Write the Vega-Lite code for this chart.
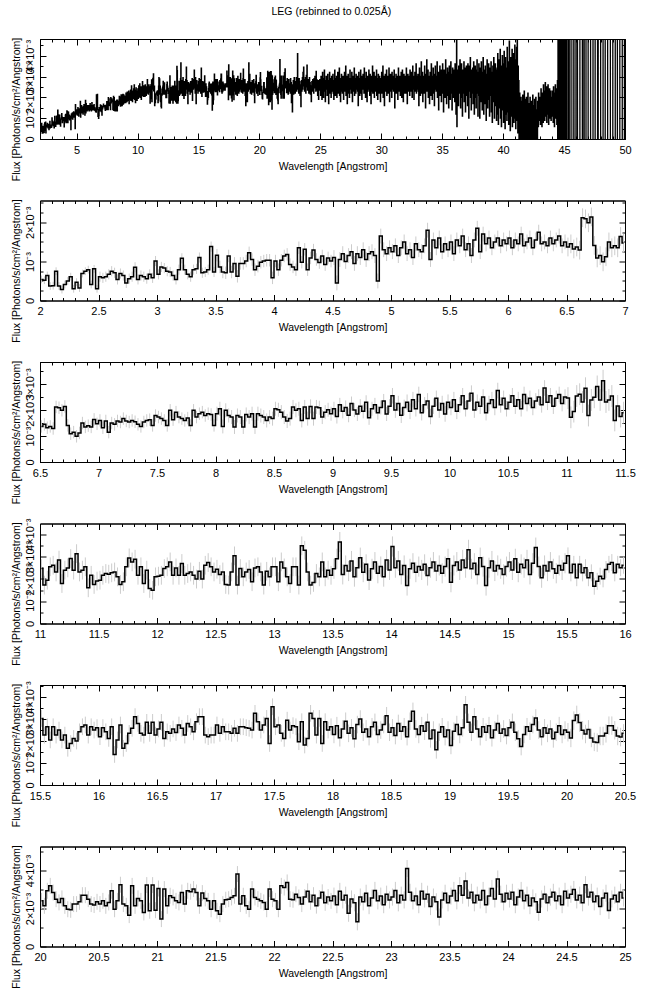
{
"$schema":"https://vega.github.io/schema/vega-lite/v6.json",
"padding":{"left":10,"top":7,"right":8,"bottom":6},
"title":{"text":"LEG (rebinned to 0.025Å)","fontSize":10.5,"fontWeight":"normal","font":"Liberation Sans","color":"black","anchor":"middle","offset":19,"dx":8},
"config":{"font":"Liberation Sans","view":{"stroke":"black","strokeWidth":1},"axis":{"grid":false,"domainColor":"black","tickColor":"black","labelColor":"black","titleColor":"black","labelFont":"Liberation Sans","titleFont":"Liberation Sans","labelFontSize":11,"titleFontSize":10.5,"titleFontWeight":"normal","zindex":1}},
"data":{"values":"x,f,e\n2.0125,0.54,0.1\n2.0375,0.52,0.1\n2.0625,0.64,0.1\n2.0875,0.37,0.1\n2.1125,0.38,0.1\n2.1375,0.75,0.1\n2.1625,0.37,0.1\n2.1875,0.28,0.1\n2.2125,0.41,0.1\n2.2375,0.5,0.1\n2.2625,0.61,0.1\n2.2875,0.3,0.1\n2.3125,0.47,0.1\n2.3375,0.32,0.1\n2.3625,0.69,0.1\n2.3875,0.75,0.1\n2.4125,0.79,0.1\n2.4375,0.41,0.1\n2.4625,0.81,0.1\n2.4875,0.3,0.1\n2.5125,0.61,0.13\n2.5375,0.58,0.13\n2.5625,0.61,0.13\n2.5875,0.67,0.13\n2.6125,0.75,0.13\n2.6375,0.71,0.13\n2.6625,0.54,0.13\n2.6875,0.69,0.13\n2.7125,0.64,0.13\n2.7375,0.45,0.13\n2.7625,0.56,0.13\n2.7875,0.61,0.13\n2.8125,0.85,0.13\n2.8375,0.54,0.13\n2.8625,0.64,0.13\n2.8875,0.61,0.13\n2.9125,0.56,0.13\n2.9375,0.67,0.13\n2.9625,0.58,0.13\n2.9875,1.01,0.13\n3.0125,0.67,0.13\n3.0375,0.86,0.13\n3.0625,0.83,0.13\n3.0875,0.75,0.13\n3.1125,0.73,0.13\n3.1375,0.64,0.13\n3.1625,0.54,0.13\n3.1875,0.79,0.13\n3.2125,1.08,0.13\n3.2375,0.79,0.13\n3.2625,0.67,0.13\n3.2875,0.61,0.13\n3.3125,0.79,0.13\n3.3375,0.81,0.13\n3.3625,1.1,0.13\n3.3875,0.71,0.13\n3.4125,0.73,0.13\n3.4375,0.79,0.13\n3.4625,1.38,0.13\n3.4875,0.73,0.13\n3.5125,1.16,0.16\n3.5375,0.86,0.16\n3.5625,0.73,0.16\n3.5875,0.71,0.16\n3.6125,1.14,0.16\n3.6375,0.73,0.16\n3.6625,0.95,0.16\n3.6875,0.62,0.16\n3.7125,0.95,0.16\n3.7375,0.95,0.16\n3.7625,1.01,0.16\n3.7875,1.22,0.16\n3.8125,1.05,0.16\n3.8375,0.79,0.16\n3.8625,0.88,0.16\n3.8875,0.98,0.16\n3.9125,1.01,0.16\n3.9375,1.03,0.16\n3.9625,1.03,0.16\n3.9875,0.58,0.16\n4.0125,1.01,0.16\n4.0375,0.79,0.16\n4.0625,1.03,0.16\n4.0875,1.14,0.16\n4.1125,1.18,0.16\n4.1375,0.92,0.16\n4.1625,0.86,0.16\n4.1875,0.79,0.16\n4.2125,1.35,0.16\n4.2375,0.98,0.16\n4.2625,1.31,0.16\n4.2875,0.79,0.16\n4.3125,1.09,0.16\n4.3375,1.29,0.16\n4.3625,1.05,0.16\n4.3875,0.97,0.16\n4.4125,1.14,0.16\n4.4375,0.92,0.16\n4.4625,1.09,0.16\n4.4875,1.01,0.16\n4.5125,1.1,0.19\n4.5375,0.45,0.19\n4.5625,1.05,0.19\n4.5875,1.2,0.19\n4.6125,1,0.19\n4.6375,1.15,0.19\n4.6625,1.25,0.19\n4.6875,0.95,0.19\n4.7125,1.2,0.19\n4.7375,1.1,0.19\n4.7625,1.3,0.19\n4.7875,1.05,0.19\n4.8125,1.2,0.19\n4.8375,1.25,0.19\n4.8625,1.15,0.19\n4.8875,0.5,0.19\n4.9125,1.65,0.19\n4.9375,1.3,0.19\n4.9625,1.2,0.19\n4.9875,1.35,0.19\n5.0125,1.25,0.19\n5.0375,1.4,0.19\n5.0625,1.15,0.19\n5.0875,1.35,0.19\n5.1125,1.5,0.19\n5.1375,1.2,0.19\n5.1625,1.3,0.19\n5.1875,1.1,0.19\n5.2125,1.45,0.19\n5.2375,1.3,0.19\n5.2625,1.25,0.19\n5.2875,1.4,0.19\n5.3125,1.8,0.19\n5.3375,1.05,0.19\n5.3625,1.55,0.19\n5.3875,1.35,0.19\n5.4125,1.6,0.19\n5.4375,1.25,0.19\n5.4625,1.45,0.19\n5.4875,1.3,0.19\n5.5125,1.5,0.19\n5.5375,1.2,0.19\n5.5625,1.55,0.19\n5.5875,1.4,0.19\n5.6125,1.65,0.19\n5.6375,1.3,0.19\n5.6625,1.45,0.19\n5.6875,1.15,0.19\n5.7125,1.55,0.19\n5.7375,1.85,0.19\n5.7625,1.25,0.19\n5.7875,1.7,0.19\n5.8125,1.45,0.19\n5.8375,1.6,0.19\n5.8625,1.35,0.19\n5.8875,1.5,0.19\n5.9125,1.6,0.19\n5.9375,1.4,0.19\n5.9625,1.55,0.19\n5.9875,1.45,0.19\n6.0125,1.6,0.19\n6.0375,1.35,0.19\n6.0625,1.55,0.19\n6.0875,1.45,0.19\n6.1125,1.7,0.19\n6.1375,1.4,0.19\n6.1625,1.5,0.19\n6.1875,1.6,0.19\n6.2125,1.35,0.19\n6.2375,1.55,0.19\n6.2625,1.75,0.19\n6.2875,1.45,0.19\n6.3125,1.5,0.19\n6.3375,1.4,0.19\n6.3625,1.6,0.19\n6.3875,1.45,0.19\n6.4125,1.55,0.19\n6.4375,1.65,0.19\n6.4625,1.4,0.19\n6.4875,1.5,0.19\n6.5125,1.37,0.24\n6.5375,1.45,0.24\n6.5625,1.32,0.24\n6.5875,1.37,0.24\n6.6125,1.29,0.24\n6.6375,2.12,0.24\n6.6625,2.09,0.24\n6.6875,1.99,0.24\n6.7125,2.14,0.24\n6.7375,1.41,0.24\n6.7625,1.09,0.24\n6.7875,1.15,0.24\n6.8125,0.99,0.24\n6.8375,1.12,0.24\n6.8625,1.5,0.24\n6.8875,1.35,0.24\n6.9125,1.4,0.24\n6.9375,1.35,0.24\n6.9625,1.64,0.24\n6.9875,1.47,0.24\n7.0125,1.6,0.24\n7.0375,1.32,0.24\n7.0625,1.58,0.24\n7.0875,1.15,0.24\n7.1125,1.5,0.24\n7.1375,1.45,0.24\n7.1625,1.58,0.24\n7.1875,1.54,0.24\n7.2125,1.67,0.24\n7.2375,1.58,0.24\n7.2625,1.54,0.24\n7.2875,1.6,0.24\n7.3125,1.55,0.24\n7.3375,1.45,0.24\n7.3625,1.37,0.24\n7.3875,1.54,0.24\n7.4125,1.6,0.24\n7.4375,1.63,0.24\n7.4625,1.41,0.24\n7.4875,1.79,0.24\n7.5125,1.73,0.24\n7.5375,1.67,0.24\n7.5625,1.6,0.24\n7.5875,1.41,0.24\n7.6125,1.99,0.24\n7.6375,1.63,0.24\n7.6625,1.92,0.24\n7.6875,1.73,0.24\n7.7125,1.67,0.24\n7.7375,1.6,0.24\n7.7625,1.69,0.24\n7.7875,1.41,0.24\n7.8125,1.99,0.24\n7.8375,1.73,0.24\n7.8625,1.86,0.24\n7.8875,1.92,0.24\n7.9125,1.79,0.24\n7.9375,1.86,0.24\n7.9625,1.83,0.24\n7.9875,1.41,0.24\n8.0125,1.86,0.27\n8.0375,2.05,0.27\n8.0625,1.37,0.27\n8.0875,1.99,0.27\n8.1125,1.79,0.27\n8.1375,1.73,0.27\n8.1625,1.35,0.27\n8.1875,1.79,0.27\n8.2125,1.73,0.27\n8.2375,1.35,0.27\n8.2625,1.83,0.27\n8.2875,1.73,0.27\n8.3125,1.86,0.27\n8.3375,1.35,0.27\n8.3625,1.86,0.27\n8.3875,1.79,0.27\n8.4125,1.73,0.27\n8.4375,1.6,0.27\n8.4625,1.73,0.27\n8.4875,1.67,0.27\n8.5125,2.05,0.27\n8.5375,2.01,0.27\n8.5625,1.92,0.27\n8.5875,1.73,0.27\n8.6125,1.58,0.27\n8.6375,1.67,0.27\n8.6625,2.12,0.27\n8.6875,1.99,0.27\n8.7125,2.05,0.27\n8.7375,1.6,0.27\n8.7625,2.12,0.27\n8.7875,1.67,0.27\n8.8125,2.14,0.27\n8.8375,1.67,0.27\n8.8625,2.12,0.27\n8.8875,2.09,0.27\n8.9125,1.73,0.27\n8.9375,1.92,0.27\n8.9625,2.01,0.27\n8.9875,1.86,0.27\n9.0125,2.05,0.27\n9.0375,1.75,0.27\n9.0625,2.2,0.27\n9.0875,1.95,0.27\n9.1125,2.1,0.27\n9.1375,1.8,0.27\n9.1625,2.25,0.27\n9.1875,2,0.27\n9.2125,1.85,0.27\n9.2375,2.15,0.27\n9.2625,1.95,0.27\n9.2875,2.3,0.27\n9.3125,1.7,0.27\n9.3375,2.05,0.27\n9.3625,2.2,0.27\n9.3875,1.9,0.27\n9.4125,2.1,0.27\n9.4375,2.35,0.27\n9.4625,1.85,0.27\n9.4875,2.15,0.27\n9.5125,2.55,0.3\n9.5375,2,0.3\n9.5625,2.25,0.3\n9.5875,1.8,0.3\n9.6125,2.1,0.3\n9.6375,2.3,0.3\n9.6625,1.95,0.3\n9.6875,2.4,0.3\n9.7125,2.05,0.3\n9.7375,2.6,0.3\n9.7625,1.9,0.3\n9.7875,2.2,0.3\n9.8125,2.35,0.3\n9.8375,1.75,0.3\n9.8625,2.15,0.3\n9.8875,2.45,0.3\n9.9125,2,0.3\n9.9375,2.25,0.3\n9.9625,1.85,0.3\n9.9875,2.3,0.3\n10.0125,2.1,0.3\n10.0375,2.4,0.3\n10.0625,1.95,0.3\n10.0875,2.2,0.3\n10.1125,2.55,0.3\n10.1375,2.05,0.3\n10.1625,2.35,0.3\n10.1875,2.65,0.3\n10.2125,2,0.3\n10.2375,2.3,0.3\n10.2625,2.15,0.3\n10.2875,2.5,0.3\n10.3125,1.9,0.3\n10.3375,2.25,0.3\n10.3625,2.4,0.3\n10.3875,2.1,0.3\n10.4125,2.75,0.3\n10.4375,2.2,0.3\n10.4625,2.45,0.3\n10.4875,2.05,0.3\n10.5125,2.3,0.3\n10.5375,2.55,0.3\n10.5625,2.15,0.3\n10.5875,2.4,0.3\n10.6125,2.05,0.3\n10.6375,2.6,0.3\n10.6625,2.25,0.3\n10.6875,2.45,0.3\n10.7125,2.1,0.3\n10.7375,2.35,0.3\n10.7625,2.5,0.3\n10.7875,2.2,0.3\n10.8125,2.85,0.3\n10.8375,2.3,0.3\n10.8625,2.55,0.3\n10.8875,2.15,0.3\n10.9125,2.45,0.3\n10.9375,2.6,0.3\n10.9625,2.25,0.3\n10.9875,2.5,0.3\n11.0125,2.46,0.42\n11.0375,1.72,0.42\n11.0625,1.94,0.42\n11.0875,2.54,0.42\n11.1125,2.61,0.42\n11.1375,2.31,0.42\n11.1625,2.84,0.42\n11.1875,1.79,0.42\n11.2125,2.39,0.42\n11.2375,2.49,0.42\n11.2625,2.91,0.42\n11.2875,2.39,0.42\n11.3125,3.13,0.42\n11.3375,2.31,0.42\n11.3625,2.39,0.42\n11.3875,2.54,0.42\n11.4125,1.6,0.42\n11.4375,2.16,0.42\n11.4625,1.75,0.42\n11.4875,1.9,0.42\n11.5125,1.94,0.42\n11.5375,2.16,0.42\n11.5625,2.24,0.42\n11.5875,2.21,0.42\n11.6125,2.27,0.42\n11.6375,2.31,0.42\n11.6625,2.09,0.42\n11.6875,1.75,0.42\n11.7125,1.87,0.42\n11.7375,2.54,0.42\n11.7625,2.94,0.42\n11.7875,2.76,0.42\n11.8125,2.88,0.42\n11.8375,2.16,0.42\n11.8625,2.54,0.42\n11.8875,1.79,0.42\n11.9125,2.39,0.42\n11.9375,1.57,0.42\n11.9625,1.49,0.42\n11.9875,2.09,0.42\n12.0125,2.12,0.42\n12.0375,2.16,0.42\n12.0625,2.46,0.42\n12.0875,2.54,0.42\n12.1125,2.76,0.42\n12.1375,2.16,0.42\n12.1625,2.49,0.42\n12.1875,2.16,0.42\n12.2125,2.69,0.42\n12.2375,2.16,0.42\n12.2625,2.24,0.42\n12.2875,2.31,0.42\n12.3125,2.16,0.42\n12.3375,1.99,0.42\n12.3625,2.34,0.42\n12.3875,1.99,0.42\n12.4125,2.61,0.42\n12.4375,2.73,0.42\n12.4625,2.54,0.42\n12.4875,2.31,0.42\n12.5125,2.43,0.42\n12.5375,2.19,0.42\n12.5625,2.31,0.42\n12.5875,1.75,0.42\n12.6125,1.72,0.42\n12.6375,2.31,0.42\n12.6625,3.03,0.42\n12.6875,1.72,0.42\n12.7125,2.46,0.42\n12.7375,2.09,0.42\n12.7625,2.31,0.42\n12.7875,2.42,0.42\n12.8125,1.87,0.42\n12.8375,2.49,0.42\n12.8625,2.54,0.42\n12.8875,2.31,0.42\n12.9125,1.72,0.42\n12.9375,2.34,0.42\n12.9625,2.09,0.42\n12.9875,2.54,0.42\n13.0125,2.54,0.42\n13.0375,1.87,0.42\n13.0625,2.76,0.42\n13.0875,2.49,0.42\n13.1125,2.09,0.42\n13.1375,1.79,0.42\n13.1625,2.54,0.42\n13.1875,2.54,0.42\n13.2125,1.72,0.42\n13.2375,3.48,0.42\n13.2625,3.28,0.42\n13.2875,2.31,0.42\n13.3125,1.72,0.42\n13.3375,1.84,0.42\n13.3625,2.24,0.42\n13.3875,2.09,0.42\n13.4125,2.76,0.42\n13.4375,2.09,0.42\n13.4625,2.39,0.42\n13.4875,2.16,0.42\n13.5125,2.45,0.45\n13.5375,2.9,0.45\n13.5625,3.65,0.45\n13.5875,2.2,0.45\n13.6125,2.6,0.45\n13.6375,2.35,0.45\n13.6625,2.8,0.45\n13.6875,2.1,0.45\n13.7125,2.5,0.45\n13.7375,2.95,0.45\n13.7625,2.3,0.45\n13.7875,2.65,0.45\n13.8125,1.95,0.45\n13.8375,2.45,0.45\n13.8625,2.75,0.45\n13.8875,2.25,0.45\n13.9125,2.55,0.45\n13.9375,2.1,0.45\n13.9625,2.85,0.45\n13.9875,2.4,0.45\n14.0125,3.45,0.45\n14.0375,2.5,0.45\n14.0625,2.8,0.45\n14.0875,2.2,0.45\n14.1125,2.6,0.45\n14.1375,1.7,0.45\n14.1625,2.45,0.45\n14.1875,2.7,0.45\n14.2125,2.3,0.45\n14.2375,2.55,0.45\n14.2625,2.4,0.45\n14.2875,2.65,0.45\n14.3125,2.15,0.45\n14.3375,2.5,0.45\n14.3625,2.75,0.45\n14.3875,2.35,0.45\n14.4125,2.6,0.45\n14.4375,2.25,0.45\n14.4625,2.55,0.45\n14.4875,2.9,0.45\n14.5125,1.85,0.45\n14.5375,2.6,0.45\n14.5625,2.75,0.45\n14.5875,2.4,0.45\n14.6125,2.85,0.45\n14.6375,2.5,0.45\n14.6625,3.3,0.45\n14.6875,2.45,0.45\n14.7125,2.7,0.45\n14.7375,2.2,0.45\n14.7625,2.95,0.45\n14.7875,2.55,0.45\n14.8125,1.7,0.45\n14.8375,2.5,0.45\n14.8625,2.8,0.45\n14.8875,2.35,0.45\n14.9125,2.6,0.45\n14.9375,2.45,0.45\n14.9625,2.2,0.45\n14.9875,2.55,0.45\n15.0125,2.75,0.45\n15.0375,2.4,0.45\n15.0625,2.9,0.45\n15.0875,2.3,0.45\n15.1125,2.65,0.45\n15.1375,2.5,0.45\n15.1625,2.85,0.45\n15.1875,2.2,0.45\n15.2125,2.7,0.45\n15.2375,3.4,0.45\n15.2625,2.55,0.45\n15.2875,2.05,0.45\n15.3125,2.6,0.45\n15.3375,2.35,0.45\n15.3625,2.75,0.45\n15.3875,2.45,0.45\n15.4125,2.25,0.45\n15.4375,2.6,0.45\n15.4625,2.4,0.45\n15.4875,2.7,0.45\n15.5125,3.03,0.38\n15.5375,2.27,0.38\n15.5625,2.65,0.38\n15.5875,2.05,0.38\n15.6125,2.65,0.38\n15.6375,2.27,0.38\n15.6625,2.5,0.38\n15.6875,2.05,0.38\n15.7125,2.27,0.38\n15.7375,1.67,0.38\n15.7625,1.89,0.38\n15.7875,2.12,0.38\n15.8125,2,0.38\n15.8375,2.42,0.38\n15.8625,2.65,0.38\n15.8875,2.73,0.38\n15.9125,2.27,0.38\n15.9375,2.65,0.38\n15.9625,2.5,0.38\n15.9875,2.61,0.38\n16.0125,2.2,0.38\n16.0375,2.61,0.38\n16.0625,2.42,0.38\n16.0875,2.12,0.38\n16.1125,2.65,0.38\n16.1375,1.39,0.38\n16.1625,2.05,0.38\n16.1875,2.73,0.38\n16.2125,1.67,0.38\n16.2375,1.89,0.38\n16.2625,2.35,0.38\n16.2875,2.58,0.38\n16.3125,3.11,0.38\n16.3375,2.8,0.38\n16.3625,2.35,0.38\n16.3875,2.27,0.38\n16.4125,2.85,0.38\n16.4375,2.35,0.38\n16.4625,2.85,0.38\n16.4875,2.27,0.38\n16.5125,2.55,0.38\n16.5375,2.85,0.38\n16.5625,2.12,0.38\n16.5875,2.42,0.38\n16.6125,2.35,0.38\n16.6375,2.55,0.38\n16.6625,2.39,0.38\n16.6875,2.73,0.38\n16.7125,2.58,0.38\n16.7375,2.27,0.38\n16.7625,2.8,0.38\n16.7875,2.65,0.38\n16.8125,2.42,0.38\n16.8375,2.88,0.38\n16.8625,3.11,0.38\n16.8875,3.11,0.38\n16.9125,2.27,0.38\n16.9375,2.2,0.38\n16.9625,2.27,0.38\n16.9875,2.27,0.38\n17.0125,2.73,0.38\n17.0375,2.35,0.38\n17.0625,2.65,0.38\n17.0875,2.42,0.38\n17.1125,2.42,0.38\n17.1375,2.35,0.38\n17.1625,2.58,0.38\n17.1875,2.35,0.38\n17.2125,2.65,0.38\n17.2375,2.65,0.38\n17.2625,2.61,0.38\n17.2875,2.58,0.38\n17.3125,2.5,0.38\n17.3375,3.26,0.38\n17.3625,2.88,0.38\n17.3875,2.5,0.38\n17.4125,2.73,0.38\n17.4375,3.03,0.38\n17.4625,1.89,0.38\n17.4875,3.56,0.38\n17.5125,2.65,0.38\n17.5375,2.73,0.38\n17.5625,2.35,0.38\n17.5875,2.12,0.38\n17.6125,2.95,0.38\n17.6375,2.5,0.38\n17.6625,2.7,0.38\n17.6875,2.65,0.38\n17.7125,1.97,0.38\n17.7375,2.88,0.38\n17.7625,1.82,0.38\n17.7875,2.12,0.38\n17.8125,3.26,0.38\n17.8375,3.03,0.38\n17.8625,2.27,0.38\n17.8875,3.03,0.38\n17.9125,1.89,0.38\n17.9375,2.88,0.38\n17.9625,2.5,0.38\n17.9875,2.65,0.38\n18.0125,2.3,0.4\n18.0375,2.7,0.4\n18.0625,2.15,0.4\n18.0875,2.55,0.4\n18.1125,2.9,0.4\n18.1375,2.35,0.4\n18.1625,2.6,0.4\n18.1875,2.1,0.4\n18.2125,2.75,0.4\n18.2375,3,0.4\n18.2625,2.4,0.4\n18.2875,2.55,0.4\n18.3125,2.2,0.4\n18.3375,2.65,0.4\n18.3625,2.85,0.4\n18.3875,2.3,0.4\n18.4125,2.5,0.4\n18.4375,2.75,0.4\n18.4625,3.15,0.4\n18.4875,2.4,0.4\n18.5125,2.6,0.4\n18.5375,2.25,0.4\n18.5625,2.8,0.4\n18.5875,2.45,0.4\n18.6125,2.65,0.4\n18.6375,2.2,0.4\n18.6625,2.9,0.4\n18.6875,3.35,0.4\n18.7125,2.55,0.4\n18.7375,2.3,0.4\n18.7625,2.7,0.4\n18.7875,2.45,0.4\n18.8125,2.85,0.4\n18.8375,2.1,0.4\n18.8625,2.5,0.4\n18.8875,1.6,0.4\n18.9125,2.4,0.4\n18.9375,2.65,0.4\n18.9625,2.2,0.4\n18.9875,2.5,0.4\n19.0125,1.8,0.4\n19.0375,2.45,0.4\n19.0625,2.75,0.4\n19.0875,2.3,0.4\n19.1125,2.6,0.4\n19.1375,3.65,0.4\n19.1625,2.85,0.4\n19.1875,2.4,0.4\n19.2125,3.1,0.4\n19.2375,2.55,0.4\n19.2625,2.2,0.4\n19.2875,2.65,0.4\n19.3125,2.4,0.4\n19.3375,2.7,0.4\n19.3625,2.15,0.4\n19.3875,2.5,0.4\n19.4125,2.8,0.4\n19.4375,2.35,0.4\n19.4625,2.55,0.4\n19.4875,2.25,0.4\n19.5125,2.6,0.4\n19.5375,2.85,0.4\n19.5625,2.4,0.4\n19.5875,2.1,0.4\n19.6125,1.75,0.4\n19.6375,2.3,0.4\n19.6625,2.65,0.4\n19.6875,2.45,0.4\n19.7125,2.75,0.4\n19.7375,3.05,0.4\n19.7625,2.5,0.4\n19.7875,2.2,0.4\n19.8125,2.6,0.4\n19.8375,2.35,0.4\n19.8625,2.55,0.4\n19.8875,2.1,0.4\n19.9125,2.4,0.4\n19.9375,2.7,0.4\n19.9625,2.3,0.4\n19.9875,2.5,0.4\n20.0125,2.4,0.42\n20.0375,2.14,0.42\n20.0625,2.93,0.42\n20.0875,3.19,0.42\n20.1125,2.84,0.42\n20.1375,2.49,0.42\n20.1625,2.32,0.42\n20.1875,2.53,0.42\n20.2125,2.14,0.42\n20.2375,1.96,0.42\n20.2625,1.93,0.42\n20.2875,2.23,0.42\n20.3125,2.23,0.42\n20.3375,2.35,0.42\n20.3625,2.7,0.42\n20.3875,2.7,0.42\n20.4125,2.49,0.42\n20.4375,2.23,0.42\n20.4625,2.18,0.42\n20.4875,2.35,0.42\n20.5125,2.23,0.42\n20.5375,2.4,0.42\n20.5625,2.14,0.42\n20.5875,2.32,0.42\n20.6125,2.93,0.42\n20.6375,1.96,0.42\n20.6625,2.4,0.42\n20.6875,3.25,0.42\n20.7125,2.23,0.42\n20.7375,2.14,0.42\n20.7625,1.65,0.42\n20.7875,3.19,0.42\n20.8125,2.14,0.42\n20.8375,2.53,0.42\n20.8625,2.4,0.42\n20.8875,1.79,0.42\n20.9125,3.23,0.42\n20.9375,1.88,0.42\n20.9625,3.23,0.42\n20.9875,1.91,0.42\n21.0125,3.05,0.42\n21.0375,1.44,0.42\n21.0625,3.02,0.42\n21.0875,2.14,0.42\n21.1125,2.67,0.42\n21.1375,2.58,0.42\n21.1625,2.4,0.42\n21.1875,2.32,0.42\n21.2125,2.84,0.42\n21.2375,2.23,0.42\n21.2625,2.93,0.42\n21.2875,2.88,0.42\n21.3125,3.02,0.42\n21.3375,2.84,0.42\n21.3625,2.14,0.42\n21.3875,2.81,0.42\n21.4125,2.53,0.42\n21.4375,2.4,0.42\n21.4625,1.96,0.42\n21.4875,2.4,0.42\n21.5125,1.88,0.42\n21.5375,1.7,0.42\n21.5625,2.23,0.42\n21.5875,2.46,0.42\n21.6125,2.49,0.42\n21.6375,2.58,0.42\n21.6625,2.67,0.42\n21.6875,3.81,0.42\n21.7125,2.23,0.42\n21.7375,2.67,0.42\n21.7625,2.14,0.42\n21.7875,1.96,0.42\n21.8125,3.02,0.42\n21.8375,2.58,0.42\n21.8625,2.49,0.42\n21.8875,2.4,0.42\n21.9125,2.32,0.42\n21.9375,1.96,0.42\n21.9625,3.02,0.42\n21.9875,2.49,0.42\n22.0125,2.4,0.42\n22.0375,1.96,0.42\n22.0625,3.19,0.42\n22.0875,3.1,0.42\n22.1125,3.37,0.42\n22.1375,2.49,0.42\n22.1625,2.46,0.42\n22.1875,2.75,0.42\n22.2125,2.58,0.42\n22.2375,2.23,0.42\n22.2625,2.6,0.42\n22.2875,2.9,0.42\n22.3125,2.35,0.42\n22.3375,2.7,0.42\n22.3625,2.15,0.42\n22.3875,2.55,0.42\n22.4125,2.85,0.42\n22.4375,2.3,0.42\n22.4625,2.6,0.42\n22.4875,2.4,0.42\n22.5125,2.65,0.45\n22.5375,2.2,0.45\n22.5625,2.9,0.45\n22.5875,2.45,0.45\n22.6125,2.7,0.45\n22.6375,1.75,0.45\n22.6625,2.5,0.45\n22.6875,2.3,0.45\n22.7125,1.3,0.45\n22.7375,2.6,0.45\n22.7625,2.35,0.45\n22.7875,2.8,0.45\n22.8125,2.15,0.45\n22.8375,2.55,0.45\n22.8625,2.95,0.45\n22.8875,2.4,0.45\n22.9125,2.65,0.45\n22.9375,2.2,0.45\n22.9625,2.75,0.45\n22.9875,2.45,0.45\n23.0125,2.6,0.45\n23.0375,2.95,0.45\n23.0625,2.3,0.45\n23.0875,2.7,0.45\n23.1125,2.45,0.45\n23.1375,4.1,0.45\n23.1625,2.85,0.45\n23.1875,2.4,0.45\n23.2125,2.65,0.45\n23.2375,2.2,0.45\n23.2625,2.9,0.45\n23.2875,2.5,0.45\n23.3125,2.75,0.45\n23.3375,2.1,0.45\n23.3625,2.6,0.45\n23.3875,2.35,0.45\n23.4125,1.55,0.45\n23.4375,2.45,0.45\n23.4625,2.8,0.45\n23.4875,2.3,0.45\n23.5125,2.65,0.45\n23.5375,2.95,0.45\n23.5625,2.4,0.45\n23.5875,3.2,0.45\n23.6125,2.7,0.45\n23.6375,3.45,0.45\n23.6625,2.55,0.45\n23.6875,2.85,0.45\n23.7125,2.3,0.45\n23.7375,2.7,0.45\n23.7625,2.45,0.45\n23.7875,2.95,0.45\n23.8125,2.2,0.45\n23.8375,2.65,0.45\n23.8625,3.05,0.45\n23.8875,2.5,0.45\n23.9125,3.55,0.45\n23.9375,2.75,0.45\n23.9625,2.35,0.45\n23.9875,2.8,0.45\n24.0125,2.5,0.45\n24.0375,2.85,0.45\n24.0625,2.2,0.45\n24.0875,2.6,0.45\n24.1125,2.95,0.45\n24.1375,2.4,0.45\n24.1625,2.7,0.45\n24.1875,2.15,0.45\n24.2125,2.55,0.45\n24.2375,2.35,0.45\n24.2625,1.8,0.45\n24.2875,2.5,0.45\n24.3125,2.75,0.45\n24.3375,2.3,0.45\n24.3625,2.6,0.45\n24.3875,2.85,0.45\n24.4125,2.4,0.45\n24.4375,2.65,0.45\n24.4625,2.2,0.45\n24.4875,2.9,0.45\n24.5125,2.55,0.45\n24.5375,2.75,0.45\n24.5625,3,0.45\n24.5875,2.45,0.45\n24.6125,2.7,0.45\n24.6375,2.3,0.45\n24.6625,3.25,0.45\n24.6875,2.6,0.45\n24.7125,2.85,0.45\n24.7375,2.35,0.45\n24.7625,2.65,0.45\n24.7875,2.1,0.45\n24.8125,2.55,0.45\n24.8375,2.8,0.45\n24.8625,1.9,0.45\n24.8875,2.5,0.45\n24.9125,2.7,0.45\n24.9375,2.35,0.45\n24.9625,2.85,0.45\n24.9875,2.55,0.45\n25.0125,2.6,\n25.0375,2.1,\n25.0625,3,\n25.0875,2.4,\n25.1125,2.8,\n25.1375,1.9,\n25.1625,2.5,\n25.1875,3.2,\n25.2125,2.2,\n25.2375,2.7,\n25.2625,2,\n25.2875,2.9,\n25.3125,2.4,\n25.3375,3.3,\n25.3625,2.3,\n25.3875,2.6,\n25.4125,1.8,\n25.4375,2.8,\n25.4625,2.5,\n25.4875,3,\n25.5125,2.4,\n25.5375,2.9,\n25.5625,2.1,\n25.5875,2.7,\n25.6125,3.1,\n25.6375,2.3,\n25.6625,2.6,\n25.6875,1.7,\n25.7125,2.8,\n25.7375,2.5,\n25.7625,3.2,\n25.7875,2.2,\n25.8125,2.7,\n25.8375,2.4,\n25.8625,2.9,\n25.8875,2,\n25.9125,2.6,\n25.9375,3,\n25.9625,2.3,\n25.9875,2.8,\n26.0125,2.5,\n26.0375,3.1,\n26.0625,2.2,\n26.0875,2.7,\n26.1125,1.9,\n26.1375,2.8,\n26.1625,2.4,\n26.1875,3.3,\n26.2125,2.6,\n26.2375,2.1,\n26.2625,2.9,\n26.2875,2.5,\n26.3125,2.3,\n26.3375,3,\n26.3625,2,\n26.3875,2.7,\n26.4125,2.4,\n26.4375,3.2,\n26.4625,2.6,\n26.4875,2.2,\n26.5125,2.8,\n26.5375,2.4,\n26.5625,3.4,\n26.5875,2.1,\n26.6125,2.6,\n26.6375,2.9,\n26.6625,1.8,\n26.6875,2.7,\n26.7125,2.3,\n26.7375,3.1,\n26.7625,2.5,\n26.7875,2.8,\n26.8125,2.2,\n26.8375,2.6,\n26.8625,3,\n26.8875,2.4,\n26.9125,1.9,\n26.9375,2.7,\n26.9625,2.5,\n26.9875,3.2,\n27.0125,2.3,\n27.0375,2.9,\n27.0625,2.6,\n27.0875,3.5,\n27.1125,2.1,\n27.1375,2.7,\n27.1625,2.4,\n27.1875,3,\n27.2125,1.7,\n27.2375,2.8,\n27.2625,2.5,\n27.2875,3.1,\n27.3125,2.2,\n27.3375,2.6,\n27.3625,2.9,\n27.3875,2,\n27.4125,2.7,\n27.4375,3.3,\n27.4625,2.4,\n27.4875,2.6,\n27.5125,2.9,\n27.5375,2.2,\n27.5625,2.7,\n27.5875,3.2,\n27.6125,2.4,\n27.6375,1.8,\n27.6625,2.8,\n27.6875,2.5,\n27.7125,3,\n27.7375,2.3,\n27.7625,2.6,\n27.7875,3.4,\n27.8125,2.1,\n27.8375,2.7,\n27.8625,2.5,\n27.8875,2.9,\n27.9125,2.2,\n27.9375,3.1,\n27.9625,2.6,\n27.9875,2.4,\n28.0125,2.7,\n28.0375,3,\n28.0625,2.3,\n28.0875,2.8,\n28.1125,1.6,\n28.1375,2.6,\n28.1625,3.2,\n28.1875,2.4,\n28.2125,2.9,\n28.2375,2.1,\n28.2625,2.7,\n28.2875,2.5,\n28.3125,3.3,\n28.3375,2.2,\n28.3625,2.8,\n28.3875,2.6,\n28.4125,1.9,\n28.4375,3,\n28.4625,2.4,\n28.4875,2.7,\n28.5125,3.1,\n28.5375,2.5,\n28.5625,2.8,\n28.5875,2.2,\n28.6125,3.4,\n28.6375,2.6,\n28.6625,2.3,\n28.6875,2.9,\n28.7125,2,\n28.7375,2.7,\n28.7625,3.2,\n28.7875,2.4,\n28.8125,2.8,\n28.8375,1.8,\n28.8625,2.6,\n28.8875,3,\n28.9125,2.3,\n28.9375,2.7,\n28.9625,2.5,\n28.9875,3.3,\n29.0125,2.4,\n29.0375,2.9,\n29.0625,2.1,\n29.0875,3.1,\n29.1125,2.6,\n29.1375,2.8,\n29.1625,1.7,\n29.1875,2.5,\n29.2125,3,\n29.2375,2.3,\n29.2625,2.7,\n29.2875,3.5,\n29.3125,2.2,\n29.3375,2.6,\n29.3625,2.9,\n29.3875,2.4,\n29.4125,3.2,\n29.4375,2,\n29.4625,2.7,\n29.4875,2.5,\n29.5125,3,\n29.5375,2.3,\n29.5625,2.8,\n29.5875,2.5,\n29.6125,3.3,\n29.6375,2.1,\n29.6625,2.7,\n29.6875,2.9,\n29.7125,1.9,\n29.7375,2.6,\n29.7625,3.1,\n29.7875,2.4,\n29.8125,2.8,\n29.8375,2.2,\n29.8625,3,\n29.8875,2.5,\n29.9125,2.7,\n29.9375,1.8,\n29.9625,2.9,\n29.9875,2.6,\n30.0125,2.5,\n30.0375,3.2,\n30.0625,2.2,\n30.0875,2.8,\n30.1125,2.6,\n30.1375,3.5,\n30.1625,2,\n30.1875,2.7,\n30.2125,2.4,\n30.2375,3,\n30.2625,1.6,\n30.2875,2.8,\n30.3125,2.5,\n30.3375,3.1,\n30.3625,2.3,\n30.3875,2.9,\n30.4125,2.6,\n30.4375,3.3,\n30.4625,2.1,\n30.4875,2.7,\n30.5125,2.9,\n30.5375,2.4,\n30.5625,3,\n30.5875,2.2,\n30.6125,2.7,\n30.6375,3.4,\n30.6625,2.5,\n30.6875,1.8,\n30.7125,2.8,\n30.7375,2.6,\n30.7625,3.1,\n30.7875,2.3,\n30.8125,2.7,\n30.8375,2.9,\n30.8625,2,\n30.8875,3.2,\n30.9125,2.5,\n30.9375,2.8,\n30.9625,2.4,\n30.9875,3,\n31.0125,2.3,\n31.0375,2.8,\n31.0625,3.3,\n31.0875,2.5,\n31.1125,1.5,\n31.1375,2.7,\n31.1625,2.9,\n31.1875,2.4,\n31.2125,3.1,\n31.2375,2.2,\n31.2625,2.6,\n31.2875,3,\n31.3125,2.5,\n31.3375,2.8,\n31.3625,1.9,\n31.3875,2.7,\n31.4125,3.4,\n31.4375,2.3,\n31.4625,2.6,\n31.4875,2.9,\n31.5125,2.4,\n31.5375,3,\n31.5625,2.1,\n31.5875,2.7,\n31.6125,2.5,\n31.6375,3.2,\n31.6625,2.8,\n31.6875,2,\n31.7125,2.6,\n31.7375,3.3,\n31.7625,2.4,\n31.7875,2.9,\n31.8125,1.8,\n31.8375,2.7,\n31.8625,3.1,\n31.8875,2.5,\n31.9125,2.2,\n31.9375,2.8,\n31.9625,3,\n31.9875,2.6,\n32.0125,2.2,\n32.0375,2.9,\n32.0625,3.4,\n32.0875,2.5,\n32.1125,2.7,\n32.1375,1.7,\n32.1625,2.8,\n32.1875,3.1,\n32.2125,2.3,\n32.2375,2.6,\n32.2625,3,\n32.2875,2.4,\n32.3125,2.8,\n32.3375,2.1,\n32.3625,3.3,\n32.3875,2.6,\n32.4125,2.9,\n32.4375,2.3,\n32.4625,2.7,\n32.4875,3.2,\n32.5125,2.5,\n32.5375,2,\n32.5625,2.9,\n32.5875,3.5,\n32.6125,2.4,\n32.6375,2.7,\n32.6625,3,\n32.6875,1.9,\n32.7125,2.6,\n32.7375,2.8,\n32.7625,3.2,\n32.7875,2.3,\n32.8125,2.7,\n32.8375,2.5,\n32.8625,3.6,\n32.8875,2.2,\n32.9125,2.8,\n32.9375,3,\n32.9625,2.4,\n32.9875,2.6,\n33.0125,3.1,\n33.0375,2.3,\n33.0625,2.8,\n33.0875,1.6,\n33.1125,2.7,\n33.1375,3.4,\n33.1625,2.5,\n33.1875,2.9,\n33.2125,2.1,\n33.2375,3,\n33.2625,2.6,\n33.2875,3.7,\n33.3125,2.2,\n33.3375,2.8,\n33.3625,2.4,\n33.3875,3.2,\n33.4125,1.8,\n33.4375,2.7,\n33.4625,3,\n33.4875,2.5,\n33.5125,2.9,\n33.5375,2.2,\n33.5625,3.5,\n33.5875,2.6,\n33.6125,2.8,\n33.6375,1.5,\n33.6625,2.7,\n33.6875,3.1,\n33.7125,2.4,\n33.7375,3.8,\n33.7625,2.3,\n33.7875,2.9,\n33.8125,2.6,\n33.8375,3.3,\n33.8625,2,\n33.8875,2.8,\n33.9125,2.5,\n33.9375,3,\n33.9625,1.7,\n33.9875,2.7,\n34.0125,3.2,\n34.0375,2.4,\n34.0625,2.9,\n34.0875,2.1,\n34.1125,3.6,\n34.1375,2.6,\n34.1625,2.8,\n34.1875,1.9,\n34.2125,3,\n34.2375,2.5,\n34.2625,3.4,\n34.2875,2.2,\n34.3125,2.7,\n34.3375,3.1,\n34.3625,1.6,\n34.3875,2.8,\n34.4125,2.4,\n34.4375,3.5,\n34.4625,2.6,\n34.4875,2.9,\n34.5125,2.3,\n34.5375,3,\n34.5625,2.6,\n34.5875,3.7,\n34.6125,2,\n34.6375,2.8,\n34.6625,2.5,\n34.6875,3.2,\n34.7125,1.4,\n34.7375,2.7,\n34.7625,3,\n34.7875,2.4,\n34.8125,3.5,\n34.8375,2.1,\n34.8625,2.9,\n34.8875,2.6,\n34.9125,3.3,\n34.9375,1.8,\n34.9625,2.7,\n34.9875,3.1,\n35.0125,2.5,\n35.0375,3.6,\n35.0625,2.2,\n35.0875,2.9,\n35.1125,1.3,\n35.1375,2.8,\n35.1625,3.3,\n35.1875,2.4,\n35.2125,3,\n35.2375,2,\n35.2625,2.7,\n35.2875,3.8,\n35.3125,2.3,\n35.3375,2.9,\n35.3625,1.7,\n35.3875,3.1,\n35.4125,2.6,\n35.4375,3.4,\n35.4625,2.1,\n35.4875,2.8,\n35.5125,3.2,\n35.5375,1.5,\n35.5625,2.7,\n35.5875,3.5,\n35.6125,2.4,\n35.6375,3,\n35.6625,1.9,\n35.6875,2.8,\n35.7125,3.7,\n35.7375,2.2,\n35.7625,2.6,\n35.7875,3.1,\n35.8125,1.4,\n35.8375,2.9,\n35.8625,3.4,\n35.8875,2.5,\n35.9125,2,\n35.9375,3.3,\n35.9625,2.7,\n35.9875,2.3,\n36.0125,3,\n36.0375,1.8,\n36.0625,3.6,\n36.0875,2.4,\n36.1125,2.9,\n36.1375,1.2,\n36.1625,2.7,\n36.1875,6.5,\n36.2125,0.6,\n36.2375,2.8,\n36.2625,3.3,\n36.2875,2.1,\n36.3125,2.9,\n36.3375,1.6,\n36.3625,3.5,\n36.3875,2.5,\n36.4125,3,\n36.4375,2.2,\n36.4625,3.8,\n36.4875,2.6,\n36.5125,1.5,\n36.5375,3.1,\n36.5625,2.7,\n36.5875,3.6,\n36.6125,2,\n36.6375,2.9,\n36.6625,1.1,\n36.6875,3.3,\n36.7125,2.5,\n36.7375,3,\n36.7625,2.2,\n36.7875,3.7,\n36.8125,1.8,\n36.8375,2.8,\n36.8625,3.4,\n36.8875,2.4,\n36.9125,1.3,\n36.9375,3,\n36.9625,2.6,\n36.9875,3.5,\n37.0125,2.1,\n37.0375,3.2,\n37.0625,2.8,\n37.0875,1.6,\n37.1125,3.6,\n37.1375,2.5,\n37.1625,3,\n37.1875,1,\n37.2125,2.9,\n37.2375,3.5,\n37.2625,2.3,\n37.2875,2.7,\n37.3125,3.9,\n37.3375,2,\n37.3625,2.8,\n37.3875,1.4,\n37.4125,3.3,\n37.4375,2.6,\n37.4625,3,\n37.4875,2.2,\n37.5125,3.4,\n37.5375,1.7,\n37.5625,2.9,\n37.5875,3.7,\n37.6125,2.4,\n37.6375,1.2,\n37.6625,3.1,\n37.6875,2.7,\n37.7125,3.5,\n37.7375,2,\n37.7625,2.8,\n37.7875,1.5,\n37.8125,3.3,\n37.8375,2.6,\n37.8625,3.8,\n37.8875,2.2,\n37.9125,2.9,\n37.9375,1.1,\n37.9625,3.2,\n37.9875,2.5,\n38.0125,3.6,\n38.0375,2.1,\n38.0625,2.8,\n38.0875,1,\n38.1125,3.4,\n38.1375,2.6,\n38.1625,3,\n38.1875,1.8,\n38.2125,3.7,\n38.2375,2.3,\n38.2625,2.9,\n38.2875,1.4,\n38.3125,3.2,\n38.3375,2.7,\n38.3625,3.9,\n38.3875,2,\n38.4125,1.2,\n38.4375,3.3,\n38.4625,2.5,\n38.4875,3,\n38.5125,1.7,\n38.5375,3.5,\n38.5625,2.4,\n38.5875,2.9,\n38.6125,0.9,\n38.6375,3.1,\n38.6625,2.6,\n38.6875,3.8,\n38.7125,2.2,\n38.7375,1.5,\n38.7625,3.3,\n38.7875,2.8,\n38.8125,3.6,\n38.8375,1.9,\n38.8625,2.7,\n38.8875,1.1,\n38.9125,3.4,\n38.9375,2.5,\n38.9625,3,\n38.9875,2.1,\n39.0125,3.7,\n39.0375,1.3,\n39.0625,2.9,\n39.0875,3.2,\n39.1125,0.8,\n39.1375,2.6,\n39.1625,3.5,\n39.1875,2.2,\n39.2125,1.8,\n39.2375,3.9,\n39.2625,2.7,\n39.2875,1,\n39.3125,3.1,\n39.3375,2.4,\n39.3625,3.6,\n39.3875,1.6,\n39.4125,2.9,\n39.4375,3.3,\n39.4625,0.9,\n39.4875,2.7,\n39.5125,3.4,\n39.5375,1.2,\n39.5625,4.1,\n39.5875,2.5,\n39.6125,0.7,\n39.6375,3,\n39.6625,2.2,\n39.6875,3.8,\n39.7125,1.5,\n39.7375,2.9,\n39.7625,4.3,\n39.7875,1,\n39.8125,2.6,\n39.8375,3.5,\n39.8625,0.6,\n39.8875,3.2,\n39.9125,2.3,\n39.9375,4,\n39.9625,1.4,\n39.9875,2.8,\n40.0125,3.6,\n40.0375,0.8,\n40.0625,2.7,\n40.0875,4.2,\n40.1125,1.6,\n40.1375,3.1,\n40.1625,0.5,\n40.1875,3.9,\n40.2125,2.4,\n40.2375,1.2,\n40.2625,3.4,\n40.2875,2.8,\n40.3125,0.9,\n40.3375,4.4,\n40.3625,2.1,\n40.3875,3,\n40.4125,1.3,\n40.4375,3.7,\n40.4625,0.7,\n40.4875,2.9,\n40.5125,4.7,\n40.5375,1.5,\n40.5625,3.3,\n40.5875,0.4,\n40.6125,2.6,\n40.6375,3.9,\n40.6625,1.1,\n40.6875,3.5,\n40.7125,2,\n40.7375,4.3,\n40.7625,0.6,\n40.7875,2.8,\n40.8125,3.6,\n40.8375,1.4,\n40.8625,4.1,\n40.8875,0.8,\n40.9125,3,\n40.9375,2.3,\n40.9625,4.5,\n40.9875,1,\n41.0125,3.2,\n41.0375,0.5,\n41.0625,3.8,\n41.0875,1.7,\n41.1125,4.4,\n41.1375,0.9,\n41.1625,6,\n41.1875,2.5,\n41.2125,0.3,\n41.2375,3.5,\n41.2625,1.2,\n41.2875,2.8,\n41.3125,-1.5,\n41.3375,0.8,\n41.3625,2.2,\n41.3875,-1.2,\n41.4125,1.6,\n41.4375,-1.8,\n41.4625,2,\n41.4875,0.6,\n41.5125,-1.4,\n41.5375,1.8,\n41.5625,0.4,\n41.5875,-1.6,\n41.6125,2.1,\n41.6375,-1,\n41.6625,1.2,\n41.6875,-1.9,\n41.7125,0.7,\n41.7375,2.3,\n41.7625,-1.3,\n41.7875,1.5,\n41.8125,-0.8,\n41.8375,1.9,\n41.8625,-1.7,\n41.8875,0.9,\n41.9125,2,\n41.9375,-1.1,\n41.9625,1.4,\n41.9875,-1.5,\n42.0125,0.8,\n42.0375,2.2,\n42.0625,-1.2,\n42.0875,1.3,\n42.1125,-1.8,\n42.1375,1.7,\n42.1625,0.5,\n42.1875,-1.4,\n42.2125,2,\n42.2375,-0.9,\n42.2625,1.1,\n42.2875,-1.6,\n42.3125,1.8,\n42.3375,0.6,\n42.3625,-1.3,\n42.3875,1.5,\n42.4125,-1.9,\n42.4375,2.1,\n42.4625,0.9,\n42.4875,-1,\n42.5125,1.6,\n42.5375,-1.5,\n42.5625,0.7,\n42.5875,1.9,\n42.6125,-1.1,\n42.6375,1.2,\n42.6625,-1.7,\n42.6875,2,\n42.7125,0.8,\n42.7375,-1.2,\n42.7625,1.4,\n42.7875,0.5,\n42.8125,-0.9,\n42.8375,1.8,\n42.8625,1.1,\n42.8875,0.6,\n42.9125,2.2,\n42.9375,1.3,\n42.9625,0.9,\n42.9875,1.7,\n43.0125,1.2,\n43.0375,2,\n43.0625,0.7,\n43.0875,1.6,\n43.1125,2.4,\n43.1375,1,\n43.1625,1.8,\n43.1875,0.6,\n43.2125,2.2,\n43.2375,1.4,\n43.2625,1.9,\n43.2875,0.8,\n43.3125,2.6,\n43.3375,1.3,\n43.3625,1.7,\n43.3875,2.3,\n43.4125,0.9,\n43.4375,1.5,\n43.4625,2.7,\n43.4875,1.1,\n43.5125,2,\n43.5375,1.4,\n43.5625,2.5,\n43.5875,0.8,\n43.6125,1.9,\n43.6375,2.2,\n43.6625,1.2,\n43.6875,2.6,\n43.7125,1.6,\n43.7375,0.7,\n43.7625,2.1,\n43.7875,1.5,\n43.8125,2.4,\n43.8375,1,\n43.8625,1.8,\n43.8875,2.3,\n43.9125,1.3,\n43.9375,0.9,\n43.9625,2,\n43.9875,1.6,\n44.0125,1.7,\n44.0375,2.3,\n44.0625,1.1,\n44.0875,2,\n44.1125,0.8,\n44.1375,2.5,\n44.1625,1.4,\n44.1875,1.9,\n44.2125,0.6,\n44.2375,2.2,\n44.2625,1.5,\n44.2875,2.6,\n44.3125,1,\n44.3375,1.8,\n44.3625,2.4,\n44.3875,1.2,\n44.4125,0.7,\n44.4375,2.1,\n44.4625,2.8,\n44.4875,-1.5,\n44.5125,9,\n44.5375,-7,\n44.5625,8,\n44.5875,-6,\n44.6125,10,\n44.6375,-8,\n44.6625,7,\n44.6875,-9,\n44.7125,11,\n44.7375,-6,\n44.7625,8,\n44.7875,-7,\n44.8125,9,\n44.8375,-8,\n44.8625,10,\n44.8875,-6,\n44.9125,7,\n44.9375,-9,\n44.9625,8,\n44.9875,-7,\n45.0125,9,\n45.0375,-8,\n45.0625,10,\n45.0875,-7,\n45.1125,8,\n45.1375,-6,\n45.1625,9,\n45.1875,9,\n45.2125,9,\n45.2375,9,\n45.2625,-8,\n45.2875,-8,\n45.3125,-8,\n45.3375,-8,\n45.3625,-8,\n45.3875,9,\n45.4125,-7,\n45.4375,9,\n45.4625,9,\n45.4875,9,\n45.5125,9,\n45.5375,9,\n45.5625,9,\n45.5875,-7,\n45.6125,-7,\n45.6375,-7,\n45.6625,-7,\n45.6875,-7,\n45.7125,-7,\n45.7375,-7,\n45.7625,8,\n45.7875,8,\n45.8125,8,\n45.8375,8,\n45.8625,8,\n45.8875,8,\n45.9125,-6,\n45.9375,-6,\n45.9625,-6,\n45.9875,-6,\n46.0125,-6,\n46.0375,-6,\n46.0625,9,\n46.0875,-8,\n46.1125,9,\n46.1375,9,\n46.1625,9,\n46.1875,9,\n46.2125,9,\n46.2375,9,\n46.2625,9,\n46.2875,9,\n46.3125,-7,\n46.3375,-7,\n46.3625,-7,\n46.3875,-7,\n46.4125,-7,\n46.4375,-7,\n46.4625,-7,\n46.4875,-7,\n46.5125,10,\n46.5375,10,\n46.5625,10,\n46.5875,10,\n46.6125,10,\n46.6375,-8,\n46.6625,10,\n46.6875,10,\n46.7125,10,\n46.7375,10,\n46.7625,10,\n46.7875,10,\n46.8125,-6,\n46.8375,-6,\n46.8625,-6,\n46.8875,-6,\n46.9125,-6,\n46.9375,-6,\n46.9625,-6,\n46.9875,9,\n47.0125,9,\n47.0375,9,\n47.0625,9,\n47.0875,9,\n47.1125,9,\n47.1375,9,\n47.1625,9,\n47.1875,-9,\n47.2125,-9,\n47.2375,-9,\n47.2625,-9,\n47.2875,-9,\n47.3125,-9,\n47.3375,-9,\n47.3625,-9,\n47.3875,8,\n47.4125,8,\n47.4375,8,\n47.4625,8,\n47.4875,8,\n47.5125,8,\n47.5375,8,\n47.5625,-7,\n47.5875,-7,\n47.6125,-7,\n47.6375,-7,\n47.6625,-7,\n47.6875,-7,\n47.7125,-7,\n47.7375,-7,\n47.7625,9,\n47.7875,-6,\n47.8125,9,\n47.8375,9,\n47.8625,9,\n47.8875,9,\n47.9125,9,\n47.9375,9,\n47.9625,9,\n47.9875,9,\n48.0125,-8,\n48.0375,-8,\n48.0625,-8,\n48.0875,-8,\n48.1125,-8,\n48.1375,-8,\n48.1625,-8,\n48.1875,-8,\n48.2125,10,\n48.2375,10,\n48.2625,10,\n48.2875,10,\n48.3125,10,\n48.3375,10,\n48.3625,10,\n48.3875,-7,\n48.4125,-7,\n48.4375,-7,\n48.4625,-7,\n48.4875,-7,\n48.5125,-7,\n48.5375,-7,\n48.5625,-7,\n48.5875,9,\n48.6125,9,\n48.6375,9,\n48.6625,9,\n48.6875,9,\n48.7125,9,\n48.7375,9,\n48.7625,9,\n48.7875,9,\n48.8125,-6,\n48.8375,-6,\n48.8625,-6,\n48.8875,-6,\n48.9125,-6,\n48.9375,-6,\n48.9625,-6,\n48.9875,-6,\n49.0125,8,\n49.0375,8,\n49.0625,8,\n49.0875,8,\n49.1125,8,\n49.1375,8,\n49.1625,8,\n49.1875,8,\n49.2125,-9,\n49.2375,-9,\n49.2625,-9,\n49.2875,-9,\n49.3125,-9,\n49.3375,-9,\n49.3625,-9,\n49.3875,10,\n49.4125,10,\n49.4375,10,\n49.4625,10,\n49.4875,10,\n49.5125,10,\n49.5375,10,\n49.5625,10,\n49.5875,-8,\n49.6125,-8,\n49.6375,-8,\n49.6625,-8,\n49.6875,-8,\n49.7125,-8,\n49.7375,-8,\n49.7625,-8,\n49.7875,9,\n49.8125,9,\n49.8375,9,\n49.8625,9,\n49.8875,9,\n49.9125,9,\n49.9375,9,\n49.9625,-7,\n49.9875,-7,","format":{"type":"csv","parse":{"x":"number","f":"number","e":"number"}}},
"bounds":"flush",
"spacing":61.5,
"vconcat":[
{"width":585,"height":100,"transform":[{"filter":"datum.x>2 && datum.x<50"}],"resolve":{"axis":{"x":"independent","y":"independent"}},
"layer":[
{"mark":{"type":"line","interpolate":"step","color":"black","strokeWidth":1.3,"clip":true},
"encoding":{"x":{"field":"x","type":"quantitative","scale":{"domain":[2,50],"nice":false,"zero":false},"axis":{"orient":"bottom","title":"Wavelength [Angstrom]","tickCount":48,"tickSize":{"condition":{"test":"abs(datum.value/5-round(datum.value/5))<1e-6","value":-6},"value":-3},"labelExpr":"abs(datum.value/5-round(datum.value/5))<1e-6 ? ''+datum.value : ''","labelPadding":11,"labelFlush":false,"labelOverlap":false,"labelBound":false,"titlePadding":3}},
"y":{"field":"f","type":"quantitative","scale":{"domain":[0,4.8],"nice":false},"axis":{"orient":"left","title":"Flux [Photons/s/cm²/Angstrom]","values":[0,0.5,1,1.5,2,2.5,3,3.5,4,4.5],"tickSize":{"condition":{"test":"abs(datum.value-round(datum.value))<1e-6","value":-6},"value":-3},"labelExpr":"datum.value==0 ? '0' : abs(datum.value-round(datum.value))>1e-6 ? '' : datum.value==1 ? '10⁻³' : round(datum.value)+'×10⁻³'","labelAngle":270,"labelAlign":"center","labelBaseline":"bottom","labelPadding":11,"labelOverlap":false,"labelFlush":false,"labelBound":false,"titleX":-19,"titleY":70,"titleAngle":270,"titleAlign":"center","titleBaseline":"bottom"}}}},
{"mark":{"type":"line","interpolate":"step","strokeOpacity":0,"clip":true},
"encoding":{"x":{"field":"x","type":"quantitative","axis":{"orient":"top","title":null,"labels":false,"tickCount":48,"tickSize":{"condition":{"test":"abs(datum.value/5-round(datum.value/5))<1e-6","value":-6},"value":-3}}},
"y":{"field":"f","type":"quantitative","axis":{"orient":"right","title":null,"labels":false,"values":[0,0.5,1,1.5,2,2.5,3,3.5,4,4.5],"tickSize":{"condition":{"test":"abs(datum.value-round(datum.value))<1e-6","value":-6},"value":-3}}}}}
]},
{"width":585,"height":100,"transform":[{"filter":"datum.x>2 && datum.x<7"}],"resolve":{"axis":{"x":"independent","y":"independent"}},
"layer":[
{"mark":{"type":"errorbar","color":"#cccccc","thickness":1},
"encoding":{"x":{"field":"x","type":"quantitative","scale":{"domain":[2,7],"nice":false,"zero":false},"axis":{"orient":"bottom","title":"Wavelength [Angstrom]","tickCount":50,"tickSize":{"condition":{"test":"abs(datum.value*2-round(datum.value*2))<1e-6","value":-6},"value":-3},"labelExpr":"abs(datum.value*2-round(datum.value*2))<1e-6 ? ''+datum.value : ''","labelPadding":11,"labelFlush":false,"labelOverlap":false,"labelBound":false,"titlePadding":3}},
"y":{"field":"f","type":"quantitative","scale":{"domain":[0,2.56],"nice":false},"axis":{"orient":"left","title":"Flux [Photons/s/cm²/Angstrom]","values":[0,0.25,0.5,0.75,1,1.25,1.5,1.75,2,2.25,2.5],"tickSize":{"condition":{"test":"abs(datum.value-round(datum.value))<1e-6","value":-6},"value":-3},"labelExpr":"datum.value==0 ? '0' : abs(datum.value-round(datum.value))>1e-6 ? '' : datum.value==1 ? '10⁻³' : round(datum.value)+'×10⁻³'","labelAngle":270,"labelAlign":"center","labelBaseline":"bottom","labelPadding":11,"labelOverlap":false,"labelFlush":false,"labelBound":false,"titleX":-19,"titleY":70,"titleAngle":270,"titleAlign":"center","titleBaseline":"bottom"}},
"yError":{"field":"e"}}},
{"mark":{"type":"line","interpolate":"step","color":"black","strokeWidth":1.5,"clip":true},
"encoding":{"x":{"field":"x","type":"quantitative","axis":{"orient":"top","title":null,"labels":false,"tickCount":50,"tickSize":{"condition":{"test":"abs(datum.value*2-round(datum.value*2))<1e-6","value":-6},"value":-3}}},
"y":{"field":"f","type":"quantitative","axis":{"orient":"right","title":null,"labels":false,"values":[0,0.25,0.5,0.75,1,1.25,1.5,1.75,2,2.25,2.5],"tickSize":{"condition":{"test":"abs(datum.value-round(datum.value))<1e-6","value":-6},"value":-3}}}}}
]},
{"width":585,"height":100,"transform":[{"filter":"datum.x>6.5 && datum.x<11.5"}],"resolve":{"axis":{"x":"independent","y":"independent"}},
"layer":[
{"mark":{"type":"errorbar","color":"#cccccc","thickness":1},
"encoding":{"x":{"field":"x","type":"quantitative","scale":{"domain":[6.5,11.5],"nice":false,"zero":false},"axis":{"orient":"bottom","title":"Wavelength [Angstrom]","tickCount":50,"tickSize":{"condition":{"test":"abs(datum.value*2-round(datum.value*2))<1e-6","value":-6},"value":-3},"labelExpr":"abs(datum.value*2-round(datum.value*2))<1e-6 ? ''+datum.value : ''","labelPadding":11,"labelFlush":false,"labelOverlap":false,"labelBound":false,"titlePadding":3}},
"y":{"field":"f","type":"quantitative","scale":{"domain":[0,3.85],"nice":false},"axis":{"orient":"left","title":"Flux [Photons/s/cm²/Angstrom]","values":[0,0.5,1,1.5,2,2.5,3,3.5],"tickSize":{"condition":{"test":"abs(datum.value-round(datum.value))<1e-6","value":-6},"value":-3},"labelExpr":"datum.value==0 ? '0' : abs(datum.value-round(datum.value))>1e-6 ? '' : datum.value==1 ? '10⁻³' : round(datum.value)+'×10⁻³'","labelAngle":270,"labelAlign":"center","labelBaseline":"bottom","labelPadding":11,"labelOverlap":false,"labelFlush":false,"labelBound":false,"titleX":-19,"titleY":70,"titleAngle":270,"titleAlign":"center","titleBaseline":"bottom"}},
"yError":{"field":"e"}}},
{"mark":{"type":"line","interpolate":"step","color":"black","strokeWidth":1.5,"clip":true},
"encoding":{"x":{"field":"x","type":"quantitative","axis":{"orient":"top","title":null,"labels":false,"tickCount":50,"tickSize":{"condition":{"test":"abs(datum.value*2-round(datum.value*2))<1e-6","value":-6},"value":-3}}},
"y":{"field":"f","type":"quantitative","axis":{"orient":"right","title":null,"labels":false,"values":[0,0.5,1,1.5,2,2.5,3,3.5],"tickSize":{"condition":{"test":"abs(datum.value-round(datum.value))<1e-6","value":-6},"value":-3}}}}}
]},
{"width":585,"height":100,"transform":[{"filter":"datum.x>11 && datum.x<16"}],"resolve":{"axis":{"x":"independent","y":"independent"}},
"layer":[
{"mark":{"type":"errorbar","color":"#cccccc","thickness":1},
"encoding":{"x":{"field":"x","type":"quantitative","scale":{"domain":[11,16],"nice":false,"zero":false},"axis":{"orient":"bottom","title":"Wavelength [Angstrom]","tickCount":50,"tickSize":{"condition":{"test":"abs(datum.value*2-round(datum.value*2))<1e-6","value":-6},"value":-3},"labelExpr":"abs(datum.value*2-round(datum.value*2))<1e-6 ? ''+datum.value : ''","labelPadding":11,"labelFlush":false,"labelOverlap":false,"labelBound":false,"titlePadding":3}},
"y":{"field":"f","type":"quantitative","scale":{"domain":[0,4.48],"nice":false},"axis":{"orient":"left","title":"Flux [Photons/s/cm²/Angstrom]","values":[0,0.5,1,1.5,2,2.5,3,3.5,4],"tickSize":{"condition":{"test":"abs(datum.value-round(datum.value))<1e-6","value":-6},"value":-3},"labelExpr":"datum.value==0 ? '0' : abs(datum.value-round(datum.value))>1e-6 ? '' : datum.value==1 ? '10⁻³' : round(datum.value)+'×10⁻³'","labelAngle":270,"labelAlign":"center","labelBaseline":"bottom","labelPadding":11,"labelOverlap":false,"labelFlush":false,"labelBound":false,"titleX":-19,"titleY":70,"titleAngle":270,"titleAlign":"center","titleBaseline":"bottom"}},
"yError":{"field":"e"}}},
{"mark":{"type":"line","interpolate":"step","color":"black","strokeWidth":1.5,"clip":true},
"encoding":{"x":{"field":"x","type":"quantitative","axis":{"orient":"top","title":null,"labels":false,"tickCount":50,"tickSize":{"condition":{"test":"abs(datum.value*2-round(datum.value*2))<1e-6","value":-6},"value":-3}}},
"y":{"field":"f","type":"quantitative","axis":{"orient":"right","title":null,"labels":false,"values":[0,0.5,1,1.5,2,2.5,3,3.5,4],"tickSize":{"condition":{"test":"abs(datum.value-round(datum.value))<1e-6","value":-6},"value":-3}}}}}
]},
{"width":585,"height":100,"transform":[{"filter":"datum.x>15.5 && datum.x<20.5"}],"resolve":{"axis":{"x":"independent","y":"independent"}},
"layer":[
{"mark":{"type":"errorbar","color":"#cccccc","thickness":1},
"encoding":{"x":{"field":"x","type":"quantitative","scale":{"domain":[15.5,20.5],"nice":false,"zero":false},"axis":{"orient":"bottom","title":"Wavelength [Angstrom]","tickCount":50,"tickSize":{"condition":{"test":"abs(datum.value*2-round(datum.value*2))<1e-6","value":-6},"value":-3},"labelExpr":"abs(datum.value*2-round(datum.value*2))<1e-6 ? ''+datum.value : ''","labelPadding":11,"labelFlush":false,"labelOverlap":false,"labelBound":false,"titlePadding":3}},
"y":{"field":"f","type":"quantitative","scale":{"domain":[0,4.55],"nice":false},"axis":{"orient":"left","title":"Flux [Photons/s/cm²/Angstrom]","values":[0,0.5,1,1.5,2,2.5,3,3.5,4,4.5],"tickSize":{"condition":{"test":"abs(datum.value-round(datum.value))<1e-6","value":-6},"value":-3},"labelExpr":"datum.value==0 ? '0' : abs(datum.value-round(datum.value))>1e-6 ? '' : datum.value==1 ? '10⁻³' : round(datum.value)+'×10⁻³'","labelAngle":270,"labelAlign":"center","labelBaseline":"bottom","labelPadding":11,"labelOverlap":false,"labelFlush":false,"labelBound":false,"titleX":-19,"titleY":70,"titleAngle":270,"titleAlign":"center","titleBaseline":"bottom"}},
"yError":{"field":"e"}}},
{"mark":{"type":"line","interpolate":"step","color":"black","strokeWidth":1.5,"clip":true},
"encoding":{"x":{"field":"x","type":"quantitative","axis":{"orient":"top","title":null,"labels":false,"tickCount":50,"tickSize":{"condition":{"test":"abs(datum.value*2-round(datum.value*2))<1e-6","value":-6},"value":-3}}},
"y":{"field":"f","type":"quantitative","axis":{"orient":"right","title":null,"labels":false,"values":[0,0.5,1,1.5,2,2.5,3,3.5,4,4.5],"tickSize":{"condition":{"test":"abs(datum.value-round(datum.value))<1e-6","value":-6},"value":-3}}}}}
]},
{"width":585,"height":100,"transform":[{"filter":"datum.x>20 && datum.x<25"}],"resolve":{"axis":{"x":"independent","y":"independent"}},
"layer":[
{"mark":{"type":"errorbar","color":"#cccccc","thickness":1},
"encoding":{"x":{"field":"x","type":"quantitative","scale":{"domain":[20,25],"nice":false,"zero":false},"axis":{"orient":"bottom","title":"Wavelength [Angstrom]","tickCount":50,"tickSize":{"condition":{"test":"abs(datum.value*2-round(datum.value*2))<1e-6","value":-6},"value":-3},"labelExpr":"abs(datum.value*2-round(datum.value*2))<1e-6 ? ''+datum.value : ''","labelPadding":11,"labelFlush":false,"labelOverlap":false,"labelBound":false,"titlePadding":3}},
"y":{"field":"f","type":"quantitative","scale":{"domain":[0,5.26],"nice":false},"axis":{"orient":"left","title":"Flux [Photons/s/cm²/Angstrom]","values":[0,1,2,3,4,5],"tickSize":{"condition":{"test":"abs(datum.value/2-round(datum.value/2))<1e-6","value":-6},"value":-3},"labelExpr":"datum.value==0 ? '0' : abs(datum.value/2-round(datum.value/2))>1e-6 ? '' : round(datum.value)+'×10⁻³'","labelAngle":270,"labelAlign":"center","labelBaseline":"bottom","labelPadding":11,"labelOverlap":false,"labelFlush":false,"labelBound":false,"titleX":-19,"titleY":70,"titleAngle":270,"titleAlign":"center","titleBaseline":"bottom"}},
"yError":{"field":"e"}}},
{"mark":{"type":"line","interpolate":"step","color":"black","strokeWidth":1.5,"clip":true},
"encoding":{"x":{"field":"x","type":"quantitative","axis":{"orient":"top","title":null,"labels":false,"tickCount":50,"tickSize":{"condition":{"test":"abs(datum.value*2-round(datum.value*2))<1e-6","value":-6},"value":-3}}},
"y":{"field":"f","type":"quantitative","axis":{"orient":"right","title":null,"labels":false,"values":[0,1,2,3,4,5],"tickSize":{"condition":{"test":"abs(datum.value/2-round(datum.value/2))<1e-6","value":-6},"value":-3}}}}}
]}
]
}
